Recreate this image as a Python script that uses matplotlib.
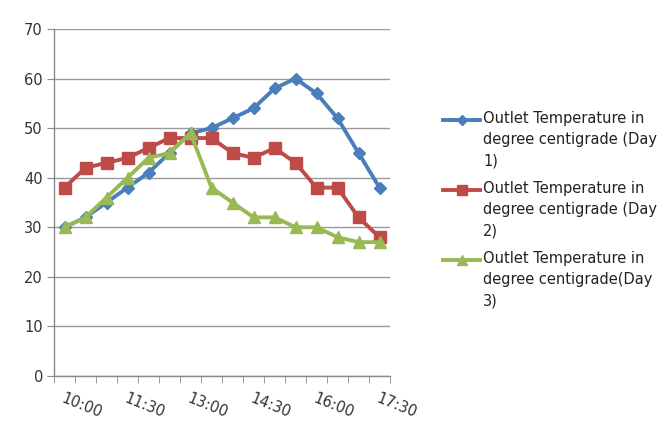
import matplotlib
matplotlib.use("Agg")
import matplotlib.pyplot as plt
from matplotlib.lines import Line2D

times = ["10:00", "10:30", "11:00", "11:30", "12:00", "12:30", "13:00", "13:30",
         "14:00", "14:30", "15:00", "15:30", "16:00", "16:30", "17:00", "17:30"]
day1 = [30, 32, 35, 38, 41, 45, 49, 50, 52, 54, 58, 60, 57, 52, 45, 38]
day2 = [38, 42, 43, 44, 46, 48, 48, 48, 45, 44, 46, 43, 38, 38, 32, 28]
day3 = [30, 32, 36, 40, 44, 45, 49, 38, 35, 32, 32, 30, 30, 28, 27, 27]
labels = ["Outlet Temperature in\ndegree centigrade (Day\n1)",
          "Outlet Temperature in\ndegree centigrade (Day\n2)",
          "Outlet Temperature in\ndegree centigrade(Day\n3)"]
colors = ["#4A7EBB", "#BE4B48", "#98B954"]
markers = ["D", "s", "^"]
msizes = [6, 8, 8]
yticks = [0, 10, 20, 30, 40, 50, 60, 70]

plt.rcParams['font.family'] = ['DejaVu Sans']
fig = plt.figure(figsize=(6.65, 4.23), dpi=100)
ax = fig.add_axes([54/665, 1-376/423, (390-54)/665, (376-29)/423])

x = list(range(len(times)))
for vals, c, m, ms in zip([day1, day2, day3], colors, markers, msizes):
    ax.plot(x, vals, color=c, lw=2.8, marker=m, ms=ms, mec=c, mfc=c, zorder=3)

ax.set_xlim(-0.5, len(times) - 0.5)
ax.set_ylim(0, 70)
ax.set_yticks(yticks)
ax.set_yticklabels([str(v) for v in yticks], fontsize=10.5, color="#333333")
ax.yaxis.grid(True, color="#9a9a9a", lw=1)
ax.set_axisbelow(True)

ax.set_xticks(x[::3])
ax.set_xticklabels(times[::3], rotation=-22, ha="left", va="top",
                   rotation_mode="anchor", fontsize=10.5, color="#333333")
ax.set_xticks([i - 0.5 for i in range(len(times) + 1)], minor=True)
ax.tick_params(axis="x", which="major", length=0, pad=11)
ax.tick_params(axis="x", which="minor", length=5, color="#8a8a8a", direction="out")
ax.tick_params(axis="y", length=5, color="#8a8a8a", direction="out", pad=3)

for s in ["top", "right"]:
    ax.spines[s].set_visible(False)
for s in ["left", "bottom"]:
    ax.spines[s].set_color("#8a8a8a")
    ax.spines[s].set_linewidth(1)

W, H = 665, 423
ys = [120, 190, 260]
lmsizes = [5, 7, 7]
for lab, c, m, ms, yy in zip(labels, colors, markers, lmsizes, ys):
    fig.add_artist(Line2D([443/W, 480/W], [1-yy/H, 1-yy/H], color=c, lw=2.8,
                          transform=fig.transFigure))
    fig.add_artist(Line2D([461.5/W], [1-yy/H], color=c, marker=m, ms=ms,
                          mec=c, mfc=c, transform=fig.transFigure))
    fig.text(483/W, 1-(yy-9)/H, lab, fontsize=10.5, color="#222222",
             va="top", ha="left", linespacing=1.5)

fig.savefig("out.png", dpi=100)
